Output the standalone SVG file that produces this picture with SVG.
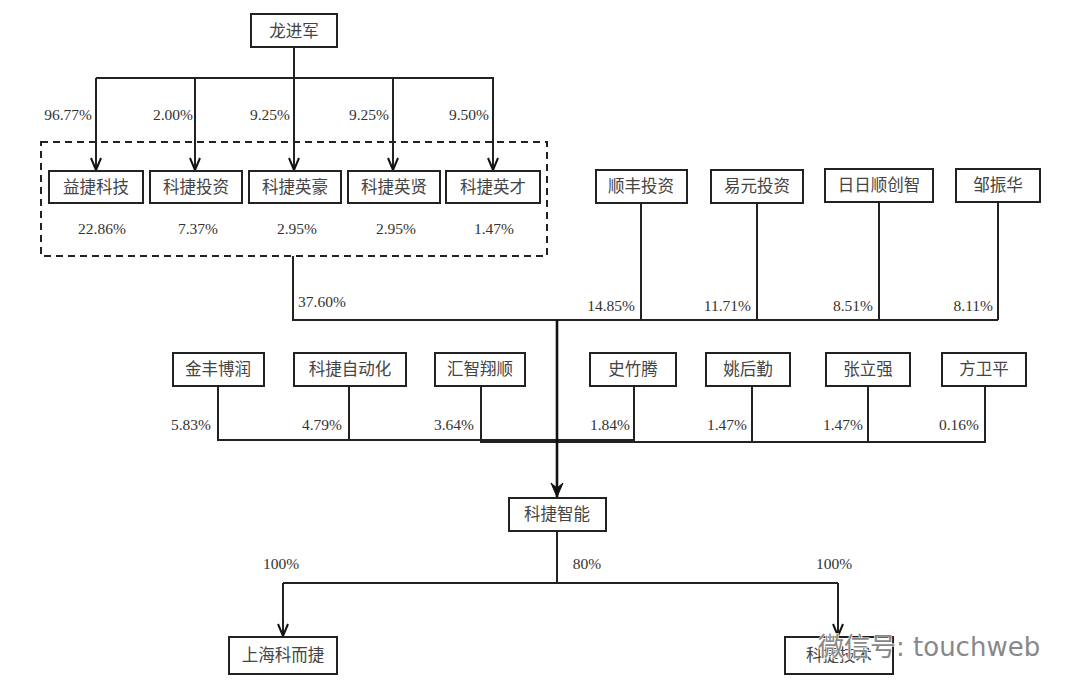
<svg xmlns="http://www.w3.org/2000/svg" width="1080" height="693" viewBox="0 0 1080 693">
<defs>
<marker id="ah" markerWidth="14" markerHeight="12" refX="13" refY="6" orient="auto" markerUnits="userSpaceOnUse" viewBox="0 0 14 12">
<path d="M1,1 L13,6 L1,11" fill="none" stroke="#111" stroke-width="2"/>
</marker>
<marker id="ahf" markerWidth="16" markerHeight="14" refX="15" refY="7" orient="auto" markerUnits="userSpaceOnUse" viewBox="0 0 16 14">
<path d="M1,1 L15,7 L1,13 L6,7 Z" fill="#111" stroke="#111" stroke-width="1"/>
</marker>
</defs>
<style>
.b{fill:#fff;stroke:#222;stroke-width:2}
.t{font-family:"Liberation Serif","Noto Sans CJK SC",serif;font-size:16.5px;fill:#444;text-anchor:middle;dominant-baseline:central}
.p{font-family:"Liberation Serif","Noto Sans CJK SC",serif;font-size:15.5px;fill:#333}
.c{fill:none;stroke:#222;stroke-width:2}
.wm{font-family:"DejaVu Sans","Noto Sans CJK SC",sans-serif;font-size:26px;fill:#888;stroke:#fff;stroke-width:1.2;paint-order:stroke}
</style>
<rect width="1080" height="693" fill="#fff"/>

<g id="connectors">
<path class="c" d="M294,47 V78 M96,78 H494"/>
<path class="c" d="M96,78 V170" marker-end="url(#ah)"/>
<path class="c" d="M195,78 V170" marker-end="url(#ah)"/>
<path class="c" d="M294,78 V170" marker-end="url(#ah)"/>
<path class="c" d="M393,78 V170" marker-end="url(#ah)"/>
<path class="c" d="M493,78 V170" marker-end="url(#ah)"/>
<rect x="41" y="142" width="506" height="114" fill="none" stroke="#222" stroke-width="2" stroke-dasharray="7,5"/>
<path class="c" d="M293,256 V320 H998"/>
<path class="c" d="M641,203 V320 M757,203 V320 M879,202 V320 M998,203 V320"/>
<path class="c" d="M218,386 V440 H634 V386 M349,386 V440"/>
<path class="c" d="M481,386 V442 H985 V386 M752,386 V442 M868,386 V442"/>
<path d="M557,320 V497" fill="none" stroke="#111" stroke-width="2.6" marker-end="url(#ahf)"/>
<path class="c" d="M557,531 V583 M283,583 H838"/>
<path class="c" d="M283,583 V636" marker-end="url(#ah)"/>
<path class="c" d="M838,583 V636" marker-end="url(#ah)"/>
</g>

<g id="labels">
<text class="p" x="92" y="120" text-anchor="end">96.77%</text>
<text class="p" x="193" y="120" text-anchor="end">2.00%</text>
<text class="p" x="290" y="120" text-anchor="end">9.25%</text>
<text class="p" x="389" y="120" text-anchor="end">9.25%</text>
<text class="p" x="489" y="120" text-anchor="end">9.50%</text>
<text class="p" x="102" y="234" text-anchor="middle">22.86%</text>
<text class="p" x="198" y="234" text-anchor="middle">7.37%</text>
<text class="p" x="297" y="234" text-anchor="middle">2.95%</text>
<text class="p" x="396" y="234" text-anchor="middle">2.95%</text>
<text class="p" x="494" y="234" text-anchor="middle">1.47%</text>
<text class="p" x="298" y="307">37.60%</text>
<text class="p" x="635" y="311" text-anchor="end">14.85%</text>
<text class="p" x="751" y="311" text-anchor="end">11.71%</text>
<text class="p" x="873" y="311" text-anchor="end">8.51%</text>
<text class="p" x="993" y="311" text-anchor="end">8.11%</text>
<text class="p" x="211" y="430" text-anchor="end">5.83%</text>
<text class="p" x="342" y="430" text-anchor="end">4.79%</text>
<text class="p" x="474" y="430" text-anchor="end">3.64%</text>
<text class="p" x="630" y="430" text-anchor="end">1.84%</text>
<text class="p" x="747" y="430" text-anchor="end">1.47%</text>
<text class="p" x="863" y="430" text-anchor="end">1.47%</text>
<text class="p" x="979" y="430" text-anchor="end">0.16%</text>
<text class="p" x="281" y="569" text-anchor="middle">100%</text>
<text class="p" x="587" y="569" text-anchor="middle">80%</text>
<text class="p" x="834" y="569" text-anchor="middle">100%</text>
</g>

<g id="n-longjinjun"><rect class="b" x="251" y="14" width="86" height="33"/><text class="t" x="294" y="31">龙进军</text></g>
<g id="n-yijie"><rect class="b" x="49" y="171" width="94" height="32"/><text class="t" x="96" y="187">益捷科技</text></g>
<g id="n-kjtouzi"><rect class="b" x="150" y="171" width="92" height="32"/><text class="t" x="196" y="187">科捷投资</text></g>
<g id="n-kjyinghao"><rect class="b" x="249" y="171" width="92" height="32"/><text class="t" x="295" y="187">科捷英豪</text></g>
<g id="n-kjyingxian"><rect class="b" x="348" y="171" width="92" height="32"/><text class="t" x="394" y="187">科捷英贤</text></g>
<g id="n-kjyingcai"><rect class="b" x="446" y="171" width="94" height="32"/><text class="t" x="493" y="187">科捷英才</text></g>
<g id="n-shunfeng"><rect class="b" x="596" y="170" width="91" height="33"/><text class="t" x="641" y="186">顺丰投资</text></g>
<g id="n-yiyuan"><rect class="b" x="711" y="170" width="92" height="33"/><text class="t" x="757" y="186">易元投资</text></g>
<g id="n-ririshun"><rect class="b" x="825" y="169" width="108" height="33"/><text class="t" x="879" y="185">日日顺创智</text></g>
<g id="n-zouzhenhua"><rect class="b" x="956" y="169" width="84" height="33"/><text class="t" x="998" y="185">邹振华</text></g>
<g id="n-jinfeng"><rect class="b" x="173" y="353" width="91" height="33"/><text class="t" x="218" y="369">金丰博润</text></g>
<g id="n-kjauto"><rect class="b" x="294" y="353" width="112" height="33"/><text class="t" x="350" y="369">科捷自动化</text></g>
<g id="n-huizhi"><rect class="b" x="435" y="353" width="90" height="33"/><text class="t" x="480" y="369">汇智翔顺</text></g>
<g id="n-shizhuteng"><rect class="b" x="590" y="353" width="86" height="33"/><text class="t" x="633" y="369">史竹腾</text></g>
<g id="n-yaohouqin"><rect class="b" x="706" y="353" width="84" height="33"/><text class="t" x="748" y="369">姚后勤</text></g>
<g id="n-zhangliqiang"><rect class="b" x="826" y="353" width="84" height="33"/><text class="t" x="868" y="369">张立强</text></g>
<g id="n-fangweiping"><rect class="b" x="942" y="353" width="84" height="33"/><text class="t" x="984" y="369">方卫平</text></g>
<g id="n-kjzhineng"><rect class="b" x="509" y="498" width="97" height="33"/><text class="t" x="557" y="514">科捷智能</text></g>
<g id="n-shanghai"><rect class="b" x="229" y="637" width="108" height="37"/><text class="t" x="283" y="655">上海科而捷</text></g>
<g id="n-kjjishu"><rect class="b" x="785" y="637" width="108" height="37"/><text class="t" x="839" y="655">科捷技术</text></g>

<text class="wm" x="818" y="656">微信号: touchweb</text>
</svg>
